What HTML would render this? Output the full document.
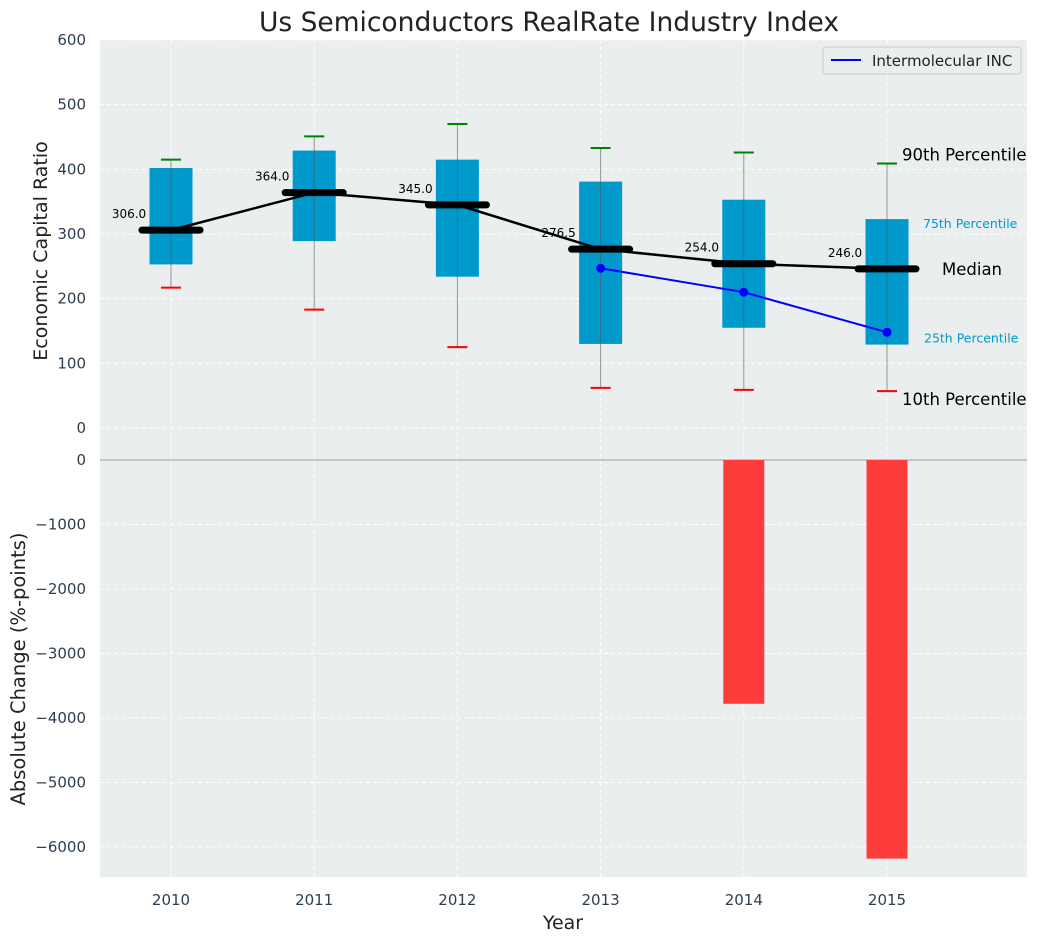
<!DOCTYPE html>
<html><head><meta charset="utf-8"><style>
body{margin:0;background:#fff;font-family:"Liberation Sans","DejaVu Sans",sans-serif}
svg text{font-family:"DejaVu Sans","Liberation Sans",sans-serif}
</style></head><body>
<svg id="c" width="1039" height="942" xmlns="http://www.w3.org/2000/svg"></svg>
<script>
const years=[2010,2011,2012,2013,2014,2015];
const p10=[217,183,125,62,59,57];
const p25=[253,289,234,130,155,129];
const med=[306,364,345,276.5,254,246];
const p75=[402,429,415,381,353,323];
const p90=[415,451,470,433,426,409];
const coYears=[2013,2014,2015];
const coVals=[247,210,148];
const chgYears=[2014,2015];
const chgVals=[-3780,-6180];
const topTicks=[0,100,200,300,400,500,600];
const botTicks=[0,-1000,-2000,-3000,-4000,-5000,-6000];

const NS="http://www.w3.org/2000/svg";
const svg=document.getElementById('c');
function el(t,a,txt){const e=document.createElementNS(NS,t);for(const k in a)e.setAttribute(k,a[k]);if(txt!==undefined)e.textContent=txt;svg.appendChild(e);return e;}
const L=100,R=1027;
const xs=y=>171+(y-2010)*143.2;
const yt=v=>428-v*0.6467;
const yb=v=>460-v*0.0645;

let bg=el('rect',{x:L,y:40,width:R-L,height:837,fill:'#eaeeee'});

years.forEach(y=>{el('line',{x1:xs(y),x2:xs(y),y1:40,y2:877,stroke:'#fff','stroke-dasharray':'4,3','stroke-width':1});});
topTicks.forEach(v=>{el('line',{x1:L,x2:R,y1:yt(v),y2:yt(v),stroke:'#fff','stroke-dasharray':'4,3'});
 let t=el('text',{x:86,y:yt(v)+5,'text-anchor':'end','font-size':15,fill:'#2c3e50'},v);
 });
botTicks.forEach(v=>{el('line',{x1:L,x2:R,y1:yb(v),y2:yb(v),stroke:'#fff','stroke-dasharray':'4,3'});
 let t=el('text',{x:86,y:yb(v)+5,'text-anchor':'end','font-size':15,fill:'#2c3e50'},v<0?'\u2212'+(-v):v);
 });
el('line',{x1:L,x2:R,y1:yb(0),y2:yb(0),stroke:'#b8b8b8','stroke-width':1.5});
years.forEach(y=>{let t=el('text',{x:xs(y),y:905,'text-anchor':'middle','font-size':15,fill:'#2c3e50'},y);
 });
chgYears.forEach((y,i)=>{let r=el('rect',{x:xs(y)-20.5,y:yb(0),width:41,height:yb(chgVals[i])-yb(0),fill:'#ff3c3c'});
 });
years.forEach((y,i)=>{const x=xs(y);
 let b=el('rect',{x:x-21.5,y:yt(p75[i]),width:43,height:yt(p25[i])-yt(p75[i]),fill:'#0099cc'});
 
 el('line',{x1:x,x2:x,y1:yt(p90[i]),y2:yt(p10[i]),stroke:'#555','stroke-opacity':0.6,'stroke-width':1});
 el('line',{x1:x-10,x2:x+10,y1:yt(p90[i]),y2:yt(p90[i]),stroke:'green','stroke-width':2});
 el('line',{x1:x-10,x2:x+10,y1:yt(p10[i]),y2:yt(p10[i]),stroke:'red','stroke-width':2});
});
el('polyline',{points:years.map((y,i)=>xs(y)+','+yt(med[i])).join(' '),fill:'none',stroke:'#000','stroke-width':2.5});
years.forEach((y,i)=>{const x=xs(y);
 let m=el('line',{x1:x-29,x2:x+29,y1:yt(med[i]),y2:yt(med[i]),stroke:'#000','stroke-width':7,'stroke-linecap':'round'});
 
 el('text',{x:x-42,y:yt(med[i])-12,'text-anchor':'middle','font-size':12,fill:'#000'},med[i].toFixed(1));
});
el('polyline',{points:coYears.map((y,i)=>xs(y)+','+yt(coVals[i])).join(' '),fill:'none',stroke:'#0000ff','stroke-width':2});
coYears.forEach((y,i)=>{let c=el('circle',{cx:xs(y),cy:yt(coVals[i]),r:4.5,fill:'#0000ff'});
 });
const lx=xs(2015);
el('text',{x:lx+15,y:yt(409)-3,'font-size':16.5,fill:'#000'},'90th Percentile');
el('text',{x:lx+36,y:yt(323)+9,'font-size':12.5,fill:'#0099cc'},'75th Percentile');
el('text',{x:lx+55,y:yt(246)+6,'font-size':16.5,fill:'#000'},'Median');
el('text',{x:lx+37,y:yt(129)-2,'font-size':12.5,fill:'#0099cc'},'25th Percentile');
el('text',{x:lx+15,y:yt(57)+14,'font-size':16.5,fill:'#000'},'10th Percentile');
let lg=el('rect',{x:823,y:47,width:198,height:27,fill:'#eaeeee',stroke:'#ccc',rx:3});

el('line',{x1:831,x2:861,y1:60,y2:60,stroke:'#0000ff','stroke-width':2});
el('text',{x:872,y:66,'font-size':15,fill:'#222'},'Intermolecular INC');
el('text',{x:549,y:31,'text-anchor':'middle','font-size':26.5,fill:'#222'},'Us Semiconductors RealRate Industry Index');
el('text',{x:563,y:929,'text-anchor':'middle','font-size':19,fill:'#222'},'Year');
el('text',{x:0,y:0,'text-anchor':'middle','font-size':19,fill:'#222',transform:'translate(47,251) rotate(-90)'},'Economic Capital Ratio');
el('text',{x:0,y:0,'text-anchor':'middle','font-size':19.5,fill:'#222',transform:'translate(25,669) rotate(-90)'},'Absolute Change (%-points)');
</script>
</body></html>
